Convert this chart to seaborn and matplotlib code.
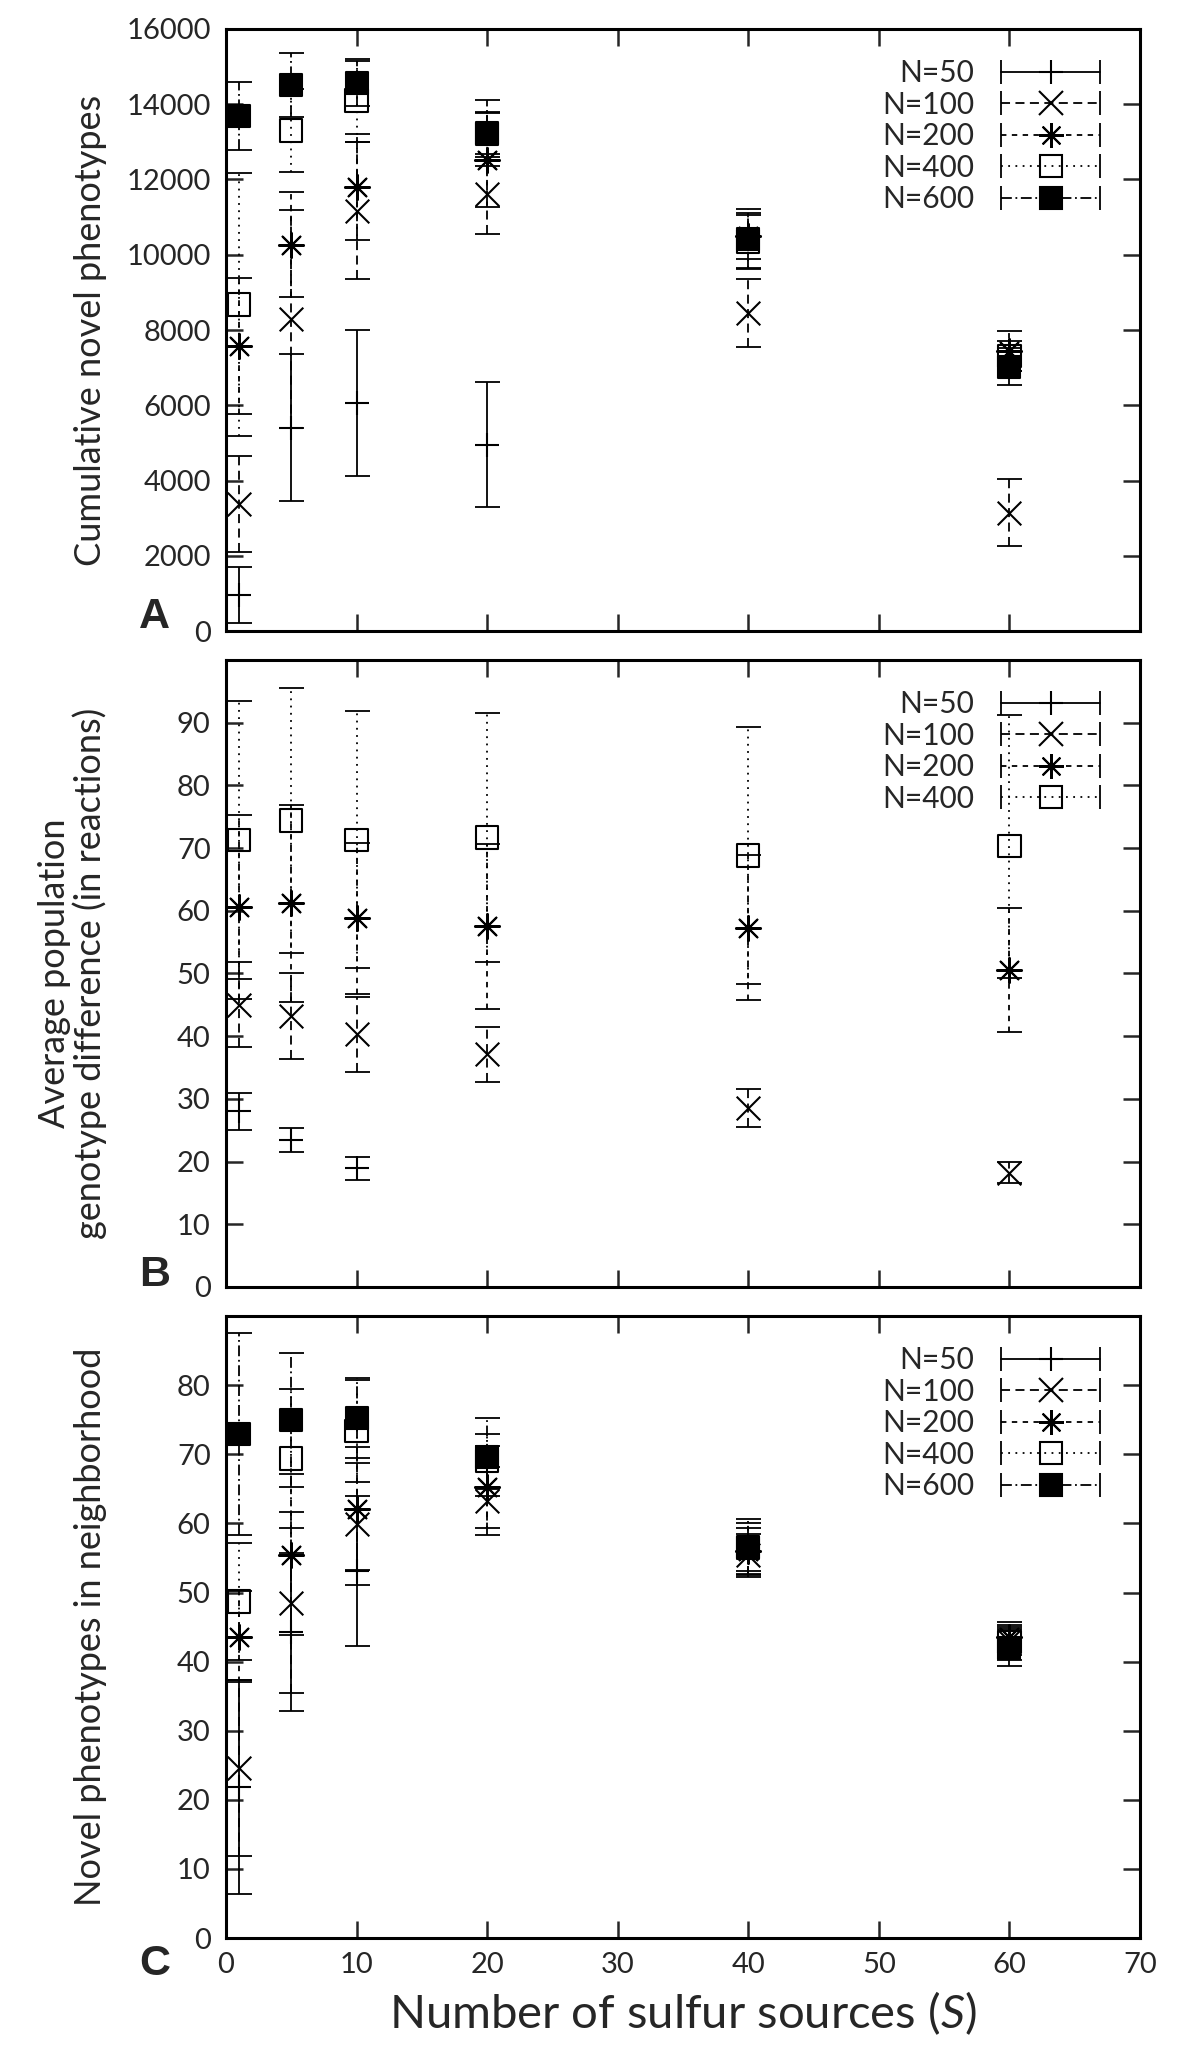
"""
    sulfur sources vs novel phenotypes, three stacked panels
"""
import pandas as pd
import seaborn as sns
import matplotlib.pyplot as plt
from matplotlib.lines import Line2D
from matplotlib.legend_handler import HandlerLine2D

sns.set_style('ticks')
plt.rcParams['font.family'] = ['Lato', 'DejaVu Sans']
plt.rcParams['mathtext.fontset'] = 'custom'
plt.rcParams['mathtext.it'] = 'Lato:italic'
plt.rcParams['mathtext.rm'] = 'Lato'

# ---- data ----
sulfur = [1, 5, 10, 20, 40, 60]
sulfur_a50 = [1, 5, 10, 20]
sulfur_bc50 = [1, 5, 10]

# A: cumulative novel phenotypes (mean, error)
a_n50 = [950, 5400, 6070, 4950]
a_n50_err = [740, 1950, 1940, 1660]
a_n100 = [3380, 8300, 11170, 11620, 8460, 3150]
a_n100_err = [1270, 2900, 1825, 1070, 900, 880]
a_n200 = [7580, 10270, 11800, 12530, 10500, 7440]
a_n200_err = [1810, 1400, 1415, 1250, 600, 530]
a_n400 = [8680, 13300, 14100, 13200, 10350, 7300]
a_n400_err = [3500, 1100, 1100, 600, 700, 400]
a_n600 = [13680, 14500, 14560, 13240, 10420, 7030]
a_n600_err = [900, 850, 600, 880, 800, 500]

# B: average population genotype difference
b_n50 = [28.0, 23.4, 18.9]
b_n50_err = [2.9, 1.9, 1.85]
b_n100 = [45.0, 43.2, 40.3, 37.1, 28.5, 18.2]
b_n100_err = [6.8, 6.9, 6.0, 4.4, 3.0, 1.7]
b_n200 = [60.6, 61.2, 58.8, 57.5, 57.3, 50.6]
b_n200_err = [14.6, 15.7, 12.0, 13.1, 11.6, 9.9]
b_n400 = [71.3, 74.4, 71.3, 71.7, 68.8, 70.3]
b_n400_err = [22.2, 21.1, 20.5, 19.8, 20.5, 21.0]

# C: novel phenotypes in neighborhood
c_n50 = [21.8, 44.3, 53.1]
c_n50_err = [15.5, 11.4, 10.8]
c_n100 = [24.6, 48.5, 59.9, 63.2, 55.5, 43.0]
c_n100_err = [12.8, 13.1, 8.8, 4.9, 3.0, 2.0]
c_n200 = [43.6, 55.5, 62.1, 65.3, 56.0, 43.6]
c_n200_err = [6.6, 11.7, 8.9, 5.9, 3.3, 2.2]
c_n400 = [48.7, 69.4, 73.4, 69.0, 56.6, 42.8]
c_n400_err = [8.5, 10.0, 7.4, 4.0, 3.5, 2.5]
c_n600 = [72.9, 75.0, 75.3, 69.6, 56.4, 42.0]
c_n600_err = [14.6, 9.7, 5.8, 5.7, 4.2, 2.7]

# ---- styles (gnuplot look) ----
styles = {
    'N=50': dict(ls='-', marker='+', fc='k', size=17),
    'N=100': dict(ls=(0, (5, 3)), marker='x', fc='k', size=17),
    'N=200': dict(ls=(0, (3, 3)), marker=(8, 2, 0), fc='k', size=18),
    'N=400': dict(ls=(0, (1, 3)), marker='s', fc='none', size=16),
    'N=600': dict(ls=(0, (6, 2, 1, 2)), marker='s', fc='k', size=16),
}


def draw_panel(ax, series, ylim, yticks, ylabel):
    for name, xs, ys, es in series:
        st = styles[name]
        df = pd.DataFrame({'S': xs, 'value': ys, 'err': es})
        eb = ax.errorbar(df['S'], df['value'], yerr=df['err'], fmt='none',
                         ecolor='k', elinewidth=1.3, capsize=9, capthick=1.3, zorder=2)
        eb[2][0].set_linestyle(st['ls'])
        kw = dict(marker=st['marker'], s=st['size'] ** 2, color='k', linewidth=1.5)
        if st['marker'] == 's':
            kw['facecolor'] = st['fc']
            kw['edgecolor'] = 'k'
        sns.scatterplot(data=df, x='S', y='value', ax=ax, legend=False, zorder=3, **kw)

    ax.set_xlim(0, 70)
    ax.set_ylim(*ylim)
    ax.set_xticks(range(0, 71, 10))
    ax.set_yticks(yticks)
    ax.tick_params(direction='in', length=12, width=1.8, top=True, right=True,
                   labelsize=21)
    ax.tick_params(axis='y', pad=11)
    ax.tick_params(axis='x', pad=10)
    for sp in ax.spines.values():
        sp.set_linewidth(2.2)
        sp.set_color('k')
    ax.set_xlabel('')
    ax.set_ylabel(ylabel, fontsize=26, linespacing=1.05)
    ax.yaxis.set_label_coords(-0.13, 0.5)

    # legend: label on the left, error bar sample on the right
    handles, hmap = [], {}
    for name, _, _, _ in series:
        st = styles[name]
        line = Line2D([], [], color='k', lw=1.3, ls=st['ls'], marker=st['marker'],
                      ms=st['size'], mfc=st['fc'], mec='k', mew=1.5)
        caps = Line2D([], [], color='k', ls='none', marker='|', ms=17, mew=1.3)
        hmap[caps] = HandlerLine2D(numpoints=2, marker_pad=0)
        handles.append((line, caps))
    h_px = ax.get_position().height * fig.get_figheight() * fig.dpi
    ax.legend(handles, [s[0] for s in series], handler_map=hmap, loc='upper right',
              bbox_to_anchor=(1 - 40 / 914, 1 - 30 / h_px), frameon=False,
              markerfirst=False, fontsize=21.5, handlelength=3.3, handletextpad=0.9,
              labelspacing=0.12, borderpad=0, borderaxespad=0)


fig = plt.figure(figsize=(12, 20.69), dpi=100)
ax_a = fig.add_axes([0.1883, 0.6950, 0.7617, 0.2910])
ax_b = fig.add_axes([0.1883, 0.3780, 0.7617, 0.3030])
ax_c = fig.add_axes([0.1883, 0.0633, 0.7617, 0.3006])

draw_panel(ax_a, [
    ('N=50', sulfur_a50, a_n50, a_n50_err),
    ('N=100', sulfur, a_n100, a_n100_err),
    ('N=200', sulfur, a_n200, a_n200_err),
    ('N=400', sulfur, a_n400, a_n400_err),
    ('N=600', sulfur, a_n600, a_n600_err),
], (0, 16000), range(0, 16001, 2000), 'Cumulative novel phenotypes')

draw_panel(ax_b, [
    ('N=50', sulfur_bc50, b_n50, b_n50_err),
    ('N=100', sulfur, b_n100, b_n100_err),
    ('N=200', sulfur, b_n200, b_n200_err),
    ('N=400', sulfur, b_n400, b_n400_err),
], (0, 100), range(0, 91, 10),
    'Average population\ngenotype difference (in reactions)')

draw_panel(ax_c, [
    ('N=50', sulfur_bc50, c_n50, c_n50_err),
    ('N=100', sulfur, c_n100, c_n100_err),
    ('N=200', sulfur, c_n200, c_n200_err),
    ('N=400', sulfur, c_n400, c_n400_err),
    ('N=600', sulfur, c_n600, c_n600_err),
], (0, 90), range(0, 81, 10), 'Novel phenotypes in neighborhood')

ax_a.tick_params(axis='x', labelbottom=False)
ax_b.tick_params(axis='x', labelbottom=False)
ax_c.set_xlabel('Number of sulfur sources ($\\mathit{S}$)', fontsize=34, labelpad=8)

for letter, y in [('A', 0.702), ('B', 0.384), ('C', 0.0508)]:
    fig.text(0.129, y, letter, fontsize=31, fontweight='bold',
             family=['Liberation Sans', 'DejaVu Sans'], ha='center', va='center')

plt.savefig('out.png', dpi=100)
